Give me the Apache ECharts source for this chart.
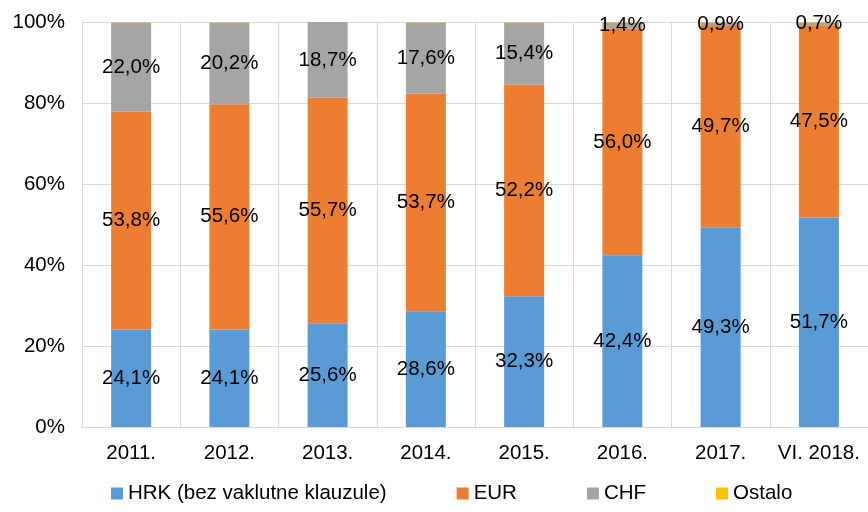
<!DOCTYPE html>
<html>
<head>
<meta charset="utf-8">
<style>
  html, body { margin: 0; padding: 0; background: #fff; }
  #chart { width: 868px; height: 512px; }
</style>
<script src="https://cdn.jsdelivr.net/npm/echarts@6/dist/echarts.min.js"></script>
</head>
<body>
<div id="chart"></div>
<script>
const categories = ['2011.', '2012.', '2013.', '2014.', '2015.', '2016.', '2017.', 'VI. 2018.']
const hrk = [24.1, 24.1, 25.6, 28.6, 32.3, 42.4, 49.3, 51.7]
const eur = [53.8, 55.6, 55.7, 53.7, 52.2, 56.0, 49.7, 47.5]
const chf = [22.0, 20.2, 18.7, 17.6, 15.4, 1.4, 0.9, 0.7]
const ostalo = [0.1, 0.1, 0.1, 0.1, 0.1, 0.2, 0.1, 0.1]
const yTicks = [0, 20, 40, 60, 80, 100]

const font = 'Liberation Sans, Arial, sans-serif'
const fs = 20.5
const fmt = (p) => p.value.toFixed(1).replace('.', ',') + '%'

const makeSeries = (name, data, color, showLabel) => ({
  name,
  type: 'bar',
  stack: 'total',
  data,
  barWidth: 40,
  itemStyle: { color },
  label: {
    show: showLabel,
    position: 'inside',
    color: '#000',
    fontFamily: font,
    fontSize: fs,
    formatter: fmt
  }
})

const chart = echarts.init(document.getElementById('chart'))
chart.setOption({
  animation: false,
  textStyle: { fontFamily: font },
  grid: { left: 82, right: -8, top: 22, bottom: 85 },
  legend: {
    bottom: 3,
    left: 106,
    itemWidth: 12,
    itemHeight: 12,
    itemGap: 70,
    icon: 'rect',
    textStyle: { color: '#000', fontSize: fs, fontFamily: font },
    data: ['HRK (bez vaklutne klauzule)', 'EUR', 'CHF', 'Ostalo']
  },
  xAxis: {
    type: 'category',
    data: categories,
    axisTick: { show: false },
    axisLine: { lineStyle: { color: '#d9d9d9', width: 1 } },
    axisLabel: { color: '#000', fontSize: fs, fontFamily: font, margin: 16, interval: 0 },
    splitLine: { show: true, interval: 0, lineStyle: { color: '#d9d9d9', width: 1 } }
  },
  yAxis: {
    type: 'value',
    min: yTicks[0],
    max: yTicks[yTicks.length - 1],
    interval: 20,
    axisLine: { show: false },
    axisTick: { show: false },
    axisLabel: { color: '#000', fontSize: fs, fontFamily: font, margin: 17, formatter: '{value}%' },
    splitLine: { lineStyle: { color: '#d9d9d9', width: 1 } }
  },
  series: [
    makeSeries('HRK (bez vaklutne klauzule)', hrk, '#5b9bd5', true),
    makeSeries('EUR', eur, '#ed7d31', true),
    makeSeries('CHF', chf, '#a5a5a5', true),
    makeSeries('Ostalo', ostalo, '#ffc000', false)
  ]
})
</script>
</body>
</html>
